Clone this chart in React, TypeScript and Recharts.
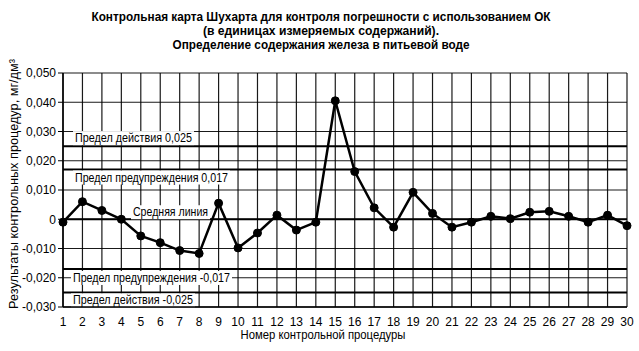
import React from 'react';
import {
  LineChart,
  Line,
  XAxis,
  YAxis,
  CartesianGrid,
  ReferenceLine,
} from 'recharts';

const procedures = Array.from({ length: 30 }, (_, i) => i + 1);

const results = [
  -0.001, 0.006, 0.003, 0.0, -0.0057, -0.008, -0.0107, -0.0117, 0.0055, -0.0098,
  -0.0047, 0.0014, -0.0037, -0.001, 0.0405, 0.0163, 0.0039, -0.0027, 0.0092, 0.002,
  -0.0027, -0.001, 0.001, 0.0002, 0.0024, 0.0027, 0.001, -0.001, 0.0014, -0.0022,
];

const yTicks = [-0.03, -0.02, -0.01, 0, 0.01, 0.02, 0.03, 0.04, 0.05];

const titleLines = [
  'Контрольная карта Шухарта для контроля погрешности с использованием ОК',
  '(в единицах измеряемых содержаний).',
  'Определение содержания железа в питьевой воде',
];

const xTitle = 'Номер контрольной процедуры';
const yTitle = 'Результаты контрольных процедур, мг/дм³';

const limits = [
  { value: 0.025, text: 'Предел действия 0,025', dx: 12, dy: -8, w: 117 },
  { value: 0.017, text: 'Предел предупреждения 0,017', dx: 12, dy: 8, w: 153 },
  { value: 0, text: 'Средняя линия', dx: 70, dy: -7, w: 75 },
  { value: -0.017, text: 'Предел предупреждения -0,017', dx: 10, dy: 9, w: 157 },
  { value: -0.025, text: 'Предел действия -0,025', dx: 10, dy: 8, w: 120 },
];

const data = procedures.map((n, i) => ({ n, v: results[i] }));

const font = "'Liberation Sans', Arial, sans-serif";

const fmt = (v: number) =>
  Math.abs(v) < 1e-9 ? '0' : v.toFixed(3).replace('.', ',');

function limitLabel(text: string, dx: number, dy: number, w: number) {
  return (props: any) => {
    const vb = props.viewBox || {};
    const x = vb.x + dx;
    const y = vb.y + dy;
    return (
      <g>
        <rect x={x - 2} y={y - 7} width={w + 4} height={14} fill="#fff" />
        <text
          x={x}
          y={y + 4}
          fontSize={12}
          fontFamily={font}
          fill="#000"
          textLength={w}
          lengthAdjust="spacingAndGlyphs"
        >
          {text}
        </text>
      </g>
    );
  };
}

export default function App() {
  return (
    <div
      style={{
        position: 'absolute',
        left: 0,
        top: 0,
        width: 639,
        height: 351,
        background: '#fff',
        fontFamily: font,
      }}
    >
      <div style={{ position: 'absolute', left: 0, top: 0 }}>
        <LineChart
          width={639}
          height={351}
          data={data}
          margin={{ top: 73, right: 12, bottom: 14, left: 8 }}
        >
          <CartesianGrid stroke="#000" strokeWidth={1.2} strokeOpacity={0.9} />
          <XAxis
            dataKey="n"
            type="number"
            domain={[1, 30]}
            ticks={procedures}
            interval={0}
            height={30}
            tickLine={false}
            tickMargin={4}
            axisLine={{ stroke: '#000', strokeWidth: 1.5 }}
            tick={{ fill: '#000', fontSize: 12, fontFamily: font }}
          />
          <YAxis
            type="number"
            domain={[-0.03, 0.05]}
            ticks={yTicks}
            interval={0}
            width={55}
            tickSize={5}
            tickMargin={2}
            tickFormatter={fmt}
            tickLine={{ stroke: '#000' }}
            axisLine={{ stroke: '#000', strokeWidth: 1.5 }}
            tick={{ fill: '#000', fontSize: 12, fontFamily: font }}
          />
          {limits.map((l) => (
            <ReferenceLine
              key={l.value}
              y={l.value}
              stroke="#000"
              strokeWidth={2}
              label={{ content: limitLabel(l.text, l.dx, l.dy, l.w) } as any}
            />
          ))}
          <Line
            type="linear"
            dataKey="v"
            stroke="#000"
            strokeWidth={2.5}
            dot={{ r: 4, fill: '#000', stroke: '#000', strokeWidth: 1 }}
            isAnimationActive={false}
          />
        </LineChart>
      </div>
      <svg
        width={639}
        height={351}
        style={{ position: 'absolute', left: 0, top: 0, pointerEvents: 'none' }}
      >
        {titleLines.map((t, i) => (
          <text
            key={i}
            x={321}
            y={21 + i * 14}
            textAnchor="middle"
            fontSize={12}
            fontWeight="bold"
            fontFamily={font}
            fill="#000"
            textLength={[459, 236, 297][i]}
            lengthAdjust="spacingAndGlyphs"
          >
            {t}
          </text>
        ))}
        <text
          x={323}
          y={339}
          textAnchor="middle"
          fontSize={12}
          fontFamily={font}
          fill="#000"
          textLength={165}
          lengthAdjust="spacingAndGlyphs"
        >
          {xTitle}
        </text>
        <text
          transform="translate(18,184) rotate(-90)"
          textAnchor="middle"
          fontSize={12}
          fontFamily={font}
          fill="#000"
          textLength={250}
          lengthAdjust="spacingAndGlyphs"
        >
          {yTitle}
        </text>
      </svg>
    </div>
  );
}
